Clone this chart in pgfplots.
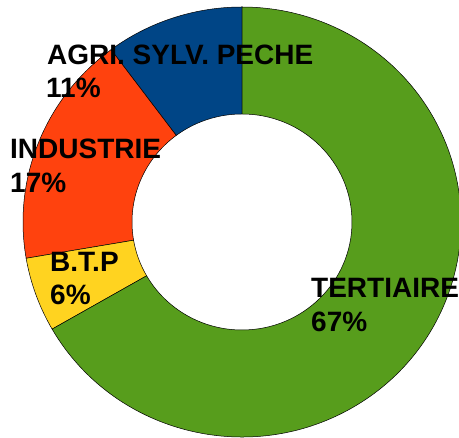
\documentclass[border=0pt]{standalone}
\usepackage{pgfplots}
\usepackage{pgfplotstable}
\pgfplotsset{compat=1.18}
\usepackage{fontspec}
\setmainfont{Liberation Sans}
\definecolor{c0}{HTML}{004586}
\definecolor{c1}{HTML}{FF420E}
\definecolor{c2}{HTML}{FFD320}
\definecolor{c3}{HTML}{579D1C}

% share of each sector (in %) and its printed label
\pgfplotstableread{
idx value pct
0 10.2 11
1 17.5 17
2 5.6 6
3 66.7 67
}\sharetable

\begin{document}%
\begin{tikzpicture}
\def\cum{90}%
\pgfplotsforeachungrouped \i in {0,...,3}{%
  \pgfplotstablegetelem{\i}{value}\of\sharetable
  \pgfmathsetmacro\endang{\cum+\pgfplotsretval*3.6}%
  \expandafter\xdef\csname sa\i\endcsname{\cum}%
  \expandafter\xdef\csname ea\i\endcsname{\endang}%
  \xdef\cum{\endang}%
}%
\begin{axis}[x=1pt,y=1pt,xmin=0,xmax=459,ymin=0,ymax=438,
  enlargelimits=false,
  axis line style={draw=none}, ticks=none, clip=true]
\pgfplotsinvokeforeach{0,...,3}{
  \fill[c#1, draw=black, line width=0.5pt]
    (axis cs:{242+219*cos(\csname sa#1\endcsname)},{216+215*sin(\csname sa#1\endcsname)})
    arc[start angle=\csname sa#1\endcsname, end angle=\csname ea#1\endcsname, x radius=219pt, y radius=215pt]
    -- (axis cs:{242+110*cos(\csname ea#1\endcsname)},{216+108*sin(\csname ea#1\endcsname)})
    arc[start angle=\csname ea#1\endcsname, end angle=\csname sa#1\endcsname, x radius=110pt, y radius=108pt]
    -- cycle;
}
\coordinate (bl) at (axis cs:0,0);
\coordinate (tr) at (axis cs:459,438);
\tikzset{lbl/.style={anchor=base west, inner sep=0pt, font=\bfseries\fontsize{28}{30}\selectfont}}
\node[lbl] at (axis cs:47,373) {AGRI. SYLV. PECHE};
\node[lbl] at (axis cs:46,340) {11\%};
\node[lbl] at (axis cs:10,279) {INDUSTRIE};
\node[lbl] at (axis cs:10,245) {17\%};
\node[lbl] at (axis cs:50,166) {B.T.P};
\node[lbl] at (axis cs:50,133) {6\%};
\node[lbl] at (axis cs:311,140) {TERTIAIRE};
\node[lbl] at (axis cs:311,106) {67\%};
\end{axis}
\pgfresetboundingbox
\path[use as bounding box] (bl) rectangle (tr);
\end{tikzpicture}%
\end{document}
